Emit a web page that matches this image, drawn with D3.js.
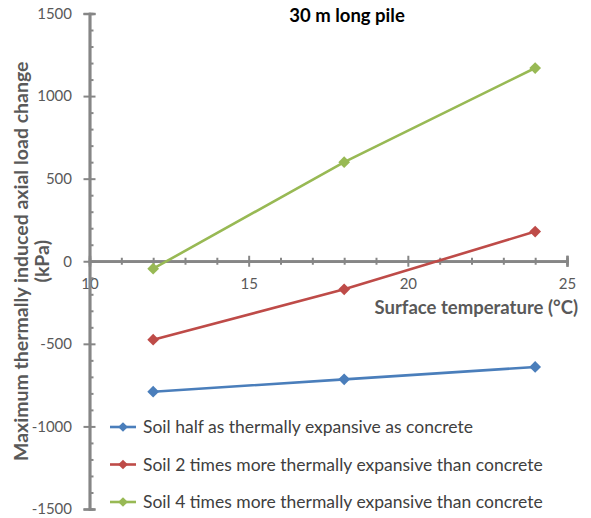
<!DOCTYPE html>
<html>
<head>
<meta charset="utf-8">
<script src="https://cdn.jsdelivr.net/npm/d3@7"></script>
<style>
  body { margin: 0; background: #fff; }
  svg { display: block; font-family: Lato, "Open Sans", sans-serif; }
</style>
</head>
<body>
<svg id="chart"></svg>
<script>
const temperatures = [12, 18, 24];
const seriesNames = [
    "Soil half as thermally expansive as concrete",
    "Soil 2 times more thermally expansive than concrete",
    "Soil 4 times more thermally expansive than concrete"
];
const halfValues = [-790, -715, -640];
const twoTimesValues = [-475, -170, 180];
const fourTimesValues = [-45, 600, 1170];
const seriesColors = ["#4a7ebb", "#be4b48", "#98b954"];
const xTicks = [10, 15, 20, 25];
const yTicks = [-1500, -1000, -500, 0, 500, 1000, 1500];

const width = 591, height = 518;
const axisColor = "#868686";
const textColor = "#595959";

const svg = d3.select("#chart").attr("width", width).attr("height", height);

const x = d3.scaleLinear().domain([10, 25]).range([89.5, 567]);
const y = d3.scaleLinear().domain([-1500, 1500]).range([509, 13.5]);

const series = [halfValues, twoTimesValues, fourTimesValues].map((vals, i) => ({
    name: seriesNames[i],
    color: seriesColors[i],
    points: temperatures.map((t, j) => ({x: t, y: vals[j]}))
}));

const xMinor = d3.range(11, 25).filter(v => v % 5 != 0);
const yMinor = d3.range(-1400, 1500, 100).filter(v => v % 500 != 0);
// plain hyphen for negatives, no thousands separator
const plain = d => String(d);

// x axis, sits on y = 0
const xAxisG = svg.append("g").attr("transform", `translate(0, ${y(0)})`);
xAxisG.append("g")
    .call(d3.axisBottom(x).tickValues(xTicks).tickSize(5.5).tickPadding(12).tickFormat(plain));
xAxisG.append("g")
    .call(d3.axisTop(x).tickValues(xTicks).tickSize(5.5).tickFormat(""));
xAxisG.append("g")
    .call(d3.axisBottom(x).tickValues(xMinor).tickSize(3.5).tickFormat(""));
xAxisG.append("g")
    .call(d3.axisTop(x).tickValues(xMinor).tickSize(3.5).tickFormat(""));

// y axis
const yAxisG = svg.append("g").attr("transform", `translate(${x(10)}, 0)`);
yAxisG.append("g")
    .call(d3.axisLeft(y).tickValues(yTicks).tickSize(6).tickPadding(11.5).tickFormat(plain));
yAxisG.append("g")
    .call(d3.axisRight(y).tickValues(yTicks).tickSize(6).tickFormat(""));
yAxisG.append("g")
    .call(d3.axisRight(y).tickValues(yMinor).tickSize(4).tickFormat(""));

svg.selectAll(".domain").attr("stroke", axisColor).attr("stroke-width", 2.5);
svg.selectAll(".tick line").attr("stroke", axisColor).attr("stroke-width", 2);
svg.selectAll(".tick text")
    .attr("fill", textColor)
    .style("font-size", "15px")
    .style("font-family", "Lato, sans-serif");

// lines and markers
const line = d3.line().x(d => x(d.x)).y(d => y(d.y));
const diamond = d3.symbol().type(d3.symbolDiamond2).size(88);

series.forEach(s => {
    svg.append("path")
        .datum(s.points)
        .attr("fill", "none")
        .attr("stroke", s.color)
        .attr("stroke-width", 2.6)
        .attr("d", line);
    svg.append("g")
        .selectAll("path")
        .data(s.points)
        .join("path")
        .attr("d", diamond)
        .attr("transform", d => `translate(${x(d.x)}, ${y(d.y)})`)
        .attr("fill", s.color);
});

// titles
svg.append("text")
    .attr("x", 347)
    .attr("y", 22)
    .attr("text-anchor", "middle")
    .attr("font-weight", "bold")
    .attr("font-size", "18.5px")
    .attr("fill", "#000")
    .text("30 m long pile");

svg.append("text")
    .attr("x", 578)
    .attr("y", 314)
    .attr("text-anchor", "end")
    .attr("font-weight", "bold")
    .attr("font-size", "18.5px")
    .attr("fill", textColor)
    .text("Surface temperature (°C)");

const yTitle = svg.append("text")
    .attr("transform", `translate(28, ${y(0)}) rotate(-90)`)
    .attr("text-anchor", "middle")
    .attr("font-weight", "bold")
    .attr("font-size", "19.5px")
    .attr("fill", textColor);
yTitle.append("tspan").attr("x", 0).attr("y", 0)
    .text("Maximum thermally induced axial load change");
yTitle.append("tspan").attr("x", 0).attr("y", 21).text("(kPa)");

// legend
const legend = svg.append("g").attr("transform", "translate(110, 427)");
series.forEach((s, i) => {
    const row = legend.append("g").attr("transform", `translate(0, ${i * 37.5})`);
    row.append("line")
        .attr("x1", 0).attr("x2", 26)
        .attr("stroke", s.color).attr("stroke-width", 2.6);
    row.append("path")
        .attr("d", d3.symbol().type(d3.symbolDiamond2).size(60))
        .attr("transform", "translate(13, 0)")
        .attr("fill", s.color);
    row.append("text")
        .attr("x", 33)
        .attr("dy", "0.35em")
        .attr("font-size", "17.5px")
        .attr("fill", "#404040")
        .text(s.name);
});
</script>
</body>
</html>
